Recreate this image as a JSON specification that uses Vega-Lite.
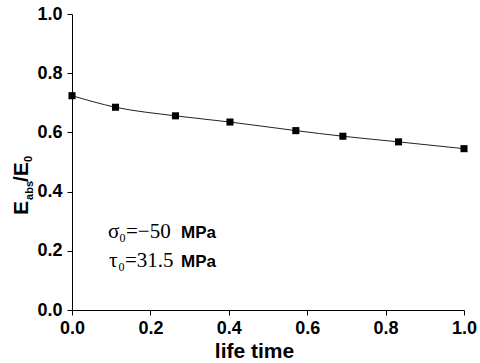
{
  "$schema": "https://vega.github.io/schema/vega-lite/v6.json",
  "width": 392,
  "height": 296,
  "autosize": {"type": "none"},
  "padding": {"left": 72, "top": 14, "right": 16, "bottom": 53},
  "background": "white",
  "datasets": {"one": [{"k": 1}]},
  "config": {
    "view": {"stroke": null},
    "font": "Liberation Sans",
    "axis": {
      "domainColor": "black",
      "domainWidth": 1,
      "tickColor": "black",
      "tickWidth": 1,
      "grid": false,
      "labelFont": "Liberation Sans",
      "labelFontWeight": "bold",
      "labelFontSize": 18,
      "labelColor": "black",
      "titleFont": "Liberation Sans",
      "titleFontWeight": "bold",
      "titleColor": "black"
    }
  },
  "layer": [
    {
      "data": {
        "values": [
          {"life": 0.0, "ratio": 0.724},
          {"life": 0.111, "ratio": 0.685},
          {"life": 0.264, "ratio": 0.656},
          {"life": 0.403, "ratio": 0.635},
          {"life": 0.571, "ratio": 0.606},
          {"life": 0.691, "ratio": 0.587},
          {"life": 0.833, "ratio": 0.568},
          {"life": 1.0, "ratio": 0.545}
        ]
      },
      "layer": [
        {
          "mark": {"type": "line", "color": "#222222", "strokeWidth": 1, "interpolate": "monotone"},
          "encoding": {
            "x": {
              "field": "life", "type": "quantitative",
              "scale": {"domain": [0, 1], "nice": false, "zero": false},
              "axis": {
                "title": "life time",
                "titleFontSize": 21,
                "titleX": 182,
                "titleY": 47,
                "titleBaseline": "alphabetic",
                "values": [0, 0.1, 0.2, 0.3, 0.4, 0.5, 0.6, 0.7, 0.8, 0.9, 1.0],
                "labelExpr": "abs(datum.value*5 - round(datum.value*5)) < 0.01 ? format(datum.value, '.1f') : ''",
                "tickSize": {"condition": {"test": "abs(datum.value*5 - round(datum.value*5)) < 0.01", "value": 5}, "value": 3},
                "labelPadding": 4,
                "labelFlush": false,
                "labelOverlap": false
              }
            },
            "y": {
              "field": "ratio", "type": "quantitative",
              "scale": {"domain": [0, 1], "nice": false, "zero": false},
              "axis": {
                "title": null,
                "values": [0, 0.1, 0.2, 0.3, 0.4, 0.5, 0.6, 0.7, 0.8, 0.9, 1.0],
                "labelExpr": "abs(datum.value*5 - round(datum.value*5)) < 0.01 ? format(datum.value, '.1f') : ''",
                "tickSize": {"condition": {"test": "abs(datum.value*5 - round(datum.value*5)) < 0.01", "value": 5}, "value": 3},
                "labelPadding": 5,
                "labelFlush": false,
                "labelOverlap": false
              }
            }
          }
        },
        {
          "mark": {"type": "point", "shape": "square", "filled": true, "color": "black", "size": 50, "opacity": 1},
          "encoding": {
            "x": {"field": "life", "type": "quantitative"},
            "y": {"field": "ratio", "type": "quantitative"}
          }
        }
      ]
    },
    {
      "data": {"name": "one"},
      "mark": {"type": "text", "text": "E", "font": "Liberation Sans", "fontWeight": "bold", "fontSize": 21, "angle": 270, "align": "left", "baseline": "alphabetic", "color": "black"},
      "encoding": {"x": {"datum": -0.1122, "type": "quantitative"}, "y": {"datum": 0.321, "type": "quantitative"}}
    },
    {
      "data": {"name": "one"},
      "mark": {"type": "text", "text": "abs", "font": "Liberation Sans", "fontWeight": "bold", "fontSize": 11, "angle": 270, "align": "left", "baseline": "alphabetic", "color": "black"},
      "encoding": {"x": {"datum": -0.0995, "type": "quantitative"}, "y": {"datum": 0.372, "type": "quantitative"}}
    },
    {
      "data": {"name": "one"},
      "mark": {"type": "text", "text": "/E", "font": "Liberation Sans", "fontWeight": "bold", "fontSize": 21, "angle": 270, "align": "left", "baseline": "alphabetic", "color": "black"},
      "encoding": {"x": {"datum": -0.1122, "type": "quantitative"}, "y": {"datum": 0.4324, "type": "quantitative"}}
    },
    {
      "data": {"name": "one"},
      "mark": {"type": "text", "text": "0", "font": "Liberation Sans", "fontWeight": "bold", "fontSize": 11, "angle": 270, "align": "left", "baseline": "alphabetic", "color": "black"},
      "encoding": {"x": {"datum": -0.1015, "type": "quantitative"}, "y": {"datum": 0.5, "type": "quantitative"}}
    },
    {
      "data": {"name": "one"},
      "mark": {"type": "text", "text": "σ", "font": "Liberation Serif", "fontSize": 21, "align": "left", "baseline": "alphabetic", "color": "black"},
      "encoding": {"x": {"datum": 0.0918, "type": "quantitative"}, "y": {"datum": 0.2432, "type": "quantitative"}}
    },
    {
      "data": {"name": "one"},
      "mark": {"type": "text", "text": "0", "font": "Liberation Serif", "fontSize": 12, "align": "left", "baseline": "alphabetic", "color": "black"},
      "encoding": {"x": {"datum": 0.1212, "type": "quantitative"}, "y": {"datum": 0.2297, "type": "quantitative"}}
    },
    {
      "data": {"name": "one"},
      "mark": {"type": "text", "text": "=−50", "font": "Liberation Serif", "fontSize": 21, "align": "left", "baseline": "alphabetic", "color": "black"},
      "encoding": {"x": {"datum": 0.1378, "type": "quantitative"}, "y": {"datum": 0.2432, "type": "quantitative"}}
    },
    {
      "data": {"name": "one"},
      "mark": {"type": "text", "text": "MPa", "font": "Liberation Sans", "fontWeight": "bold", "fontSize": 17, "align": "left", "baseline": "alphabetic", "color": "black"},
      "encoding": {"x": {"datum": 0.278, "type": "quantitative"}, "y": {"datum": 0.2432, "type": "quantitative"}}
    },
    {
      "data": {"name": "one"},
      "mark": {"type": "text", "text": "τ", "font": "Liberation Serif", "fontSize": 21, "align": "left", "baseline": "alphabetic", "color": "black"},
      "encoding": {"x": {"datum": 0.0944, "type": "quantitative"}, "y": {"datum": 0.1453, "type": "quantitative"}}
    },
    {
      "data": {"name": "one"},
      "mark": {"type": "text", "text": "0", "font": "Liberation Serif", "fontSize": 12, "align": "left", "baseline": "alphabetic", "color": "black"},
      "encoding": {"x": {"datum": 0.1186, "type": "quantitative"}, "y": {"datum": 0.1318, "type": "quantitative"}}
    },
    {
      "data": {"name": "one"},
      "mark": {"type": "text", "text": "=31.5", "font": "Liberation Serif", "fontSize": 21, "align": "left", "baseline": "alphabetic", "color": "black"},
      "encoding": {"x": {"datum": 0.1352, "type": "quantitative"}, "y": {"datum": 0.1453, "type": "quantitative"}}
    },
    {
      "data": {"name": "one"},
      "mark": {"type": "text", "text": "MPa", "font": "Liberation Sans", "fontWeight": "bold", "fontSize": 17, "align": "left", "baseline": "alphabetic", "color": "black"},
      "encoding": {"x": {"datum": 0.278, "type": "quantitative"}, "y": {"datum": 0.1453, "type": "quantitative"}}
    }
  ]
}
